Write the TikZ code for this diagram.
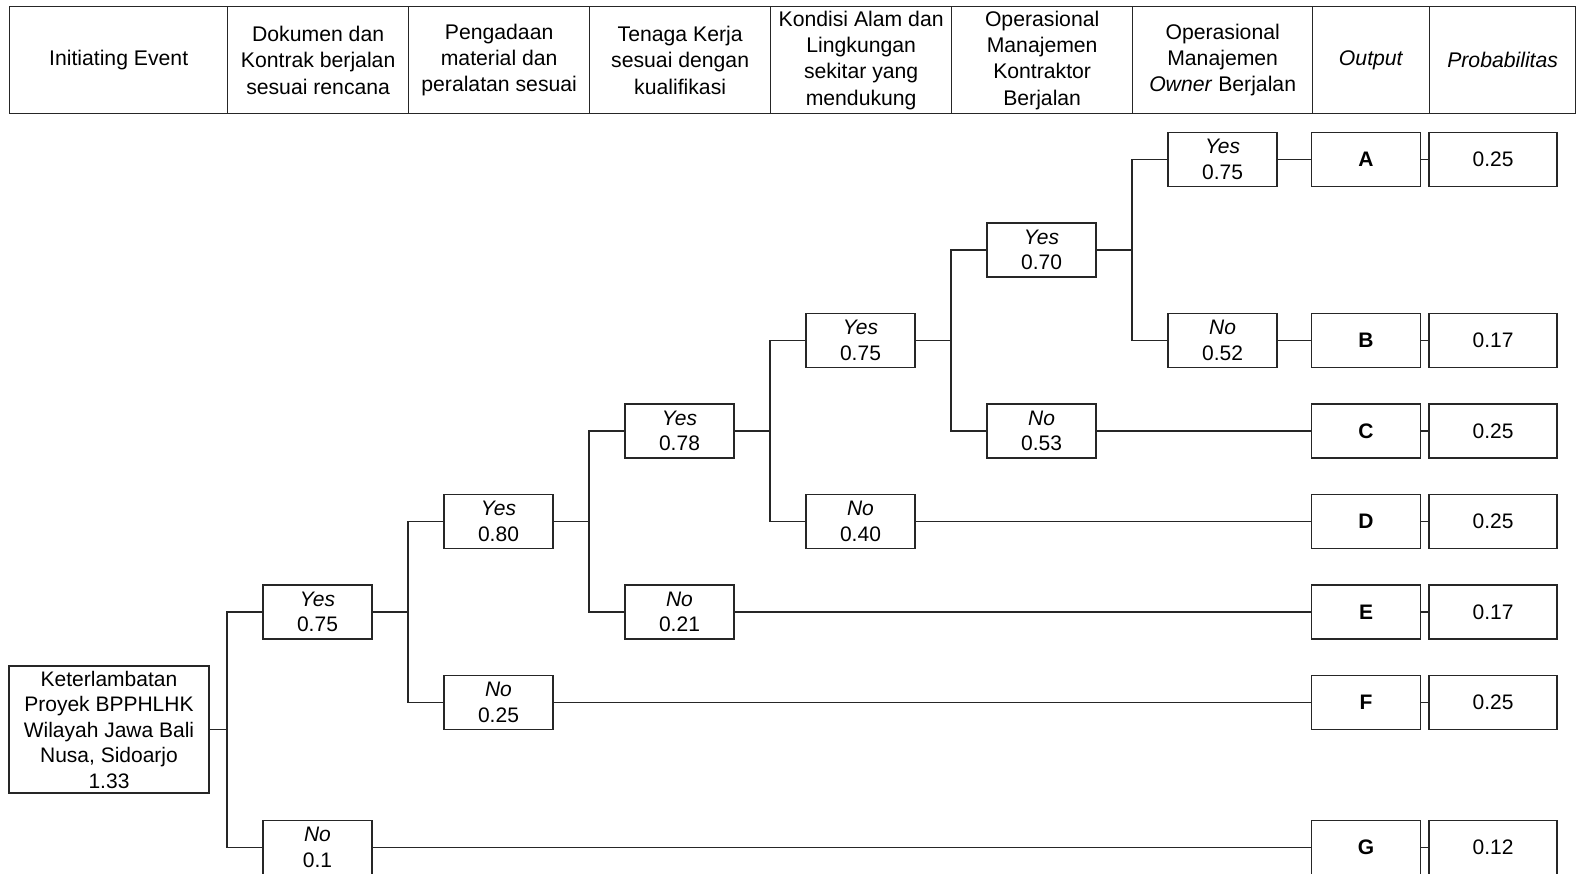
\documentclass[tikz,border=0pt]{standalone}
\usepackage{fontspec}
\setmainfont{Liberation Sans}
\begin{document}
\begin{tikzpicture}[x=1pt,y=-1pt,
  ln/.style={draw=black!85, line width=1.3pt},
  hcell/.style={ln, minimum height=107pt, inner sep=0pt, align=center, anchor=north west,
    font=\fontsize{21.2}{26.3}\selectfont},
  tbox/.style={ln, minimum width=109pt, minimum height=54pt, inner sep=0pt, align=center,
    font=\fontsize{21}{25.5}\selectfont},
  obox/.style={tbox, minimum width=109.5pt, font=\fontsize{21}{25.5}\selectfont\bfseries},
  pbox/.style={tbox, minimum width=128pt},
  conn/.style={ln}
]
\useasboundingbox (0,0) rectangle (1577,873);
% header
\node[hcell, minimum width=218pt] (h0) at (9,6) {Initiating Event};
\node[hcell, minimum width=181pt] (h1) at (227,6) {Dokumen dan\\Kontrak berjalan\\sesuai rencana};
\node[hcell, minimum width=181pt] (h2) at (408,6) {Pengadaan\\material dan\\peralatan sesuai};
\node[hcell, minimum width=181pt] (h3) at (589,6) {Tenaga Kerja\\sesuai dengan\\kualifikasi};
\node[hcell, minimum width=181pt] (h4) at (770,6) {Kondisi Alam dan\\Lingkungan\\sekitar yang\\mendukung};
\node[hcell, minimum width=181pt] (h5) at (951,6) {Operasional\\Manajemen\\Kontraktor\\Berjalan};
\node[hcell, minimum width=180pt] (h6) at (1132,6) {Operasional\\Manajemen\\\textit{Owner} Berjalan};
\node[hcell, minimum width=117pt] (h7) at (1312,6) {\textit{Output}};
\node[hcell, minimum width=146pt] (h8) at (1429,6) {\textit{Probabilitas}};

% root
\node[tbox, minimum width=200pt, minimum height=127pt] (root) at (109,729.5)
  {Keterlambatan\\Proyek BPPHLHK\\Wilayah Jawa Bali\\Nusa, Sidoarjo\\1.33};

% level 1
\node[tbox] (y1) at (317.5,612) {\textit{Yes}\\0.75};
\node[tbox] (n1) at (317.5,847.5) {\textit{No}\\0.1};
% level 2
\node[tbox] (y2) at (498.5,521.5) {\textit{Yes}\\0.80};
\node[tbox] (n2) at (498.5,702.5) {\textit{No}\\0.25};
% level 3
\node[tbox] (y3) at (679.5,431) {\textit{Yes}\\0.78};
\node[tbox] (n3) at (679.5,612) {\textit{No}\\0.21};
% level 4
\node[tbox] (y4) at (860.5,340.5) {\textit{Yes}\\0.75};
\node[tbox] (n4) at (860.5,521.5) {\textit{No}\\0.40};
% level 5
\node[tbox] (y5) at (1041.5,250) {\textit{Yes}\\0.70};
\node[tbox] (n5) at (1041.5,431) {\textit{No}\\0.53};
% level 6
\node[tbox] (y6) at (1222.5,159.5) {\textit{Yes}\\0.75};
\node[tbox] (n6) at (1222.5,340.5) {\textit{No}\\0.52};

% outputs
\node[obox] (oA) at (1366,159.5) {A};
\node[obox] (oB) at (1366,340.5) {B};
\node[obox] (oC) at (1366,431) {C};
\node[obox] (oD) at (1366,521.5) {D};
\node[obox] (oE) at (1366,612) {E};
\node[obox] (oF) at (1366,702.5) {F};
\node[obox] (oG) at (1366,847.5) {G};
% probabilities
\node[pbox] (pA) at (1493,159.5) {0.25};
\node[pbox] (pB) at (1493,340.5) {0.17};
\node[pbox] (pC) at (1493,431) {0.25};
\node[pbox] (pD) at (1493,521.5) {0.25};
\node[pbox] (pE) at (1493,612) {0.17};
\node[pbox] (pF) at (1493,702.5) {0.25};
\node[pbox] (pG) at (1493,847.5) {0.12};

% split points
\coordinate (t1) at (227,729.5);
\coordinate (t2) at (408,612);
\coordinate (t3) at (589,521.5);
\coordinate (t4) at (770,431);
\coordinate (t5) at (951,340.5);
\coordinate (t6) at (1132,250);

\draw[conn] (root.east) -- (t1);
\draw[conn] (y1.west) -| (t1) |- (n1.west);
\draw[conn] (y1.east) -- (t2);
\draw[conn] (y2.west) -| (t2) |- (n2.west);
\draw[conn] (y2.east) -- (t3);
\draw[conn] (y3.west) -| (t3) |- (n3.west);
\draw[conn] (y3.east) -- (t4);
\draw[conn] (y4.west) -| (t4) |- (n4.west);
\draw[conn] (y4.east) -- (t5);
\draw[conn] (y5.west) -| (t5) |- (n5.west);
\draw[conn] (y5.east) -- (t6);
\draw[conn] (y6.west) -| (t6) |- (n6.west);

\draw[conn] (y6.east) -- (oA.west);
\draw[conn] (n6.east) -- (oB.west);
\draw[conn] (n5.east) -- (oC.west);
\draw[conn] (n4.east) -- (oD.west);
\draw[conn] (n3.east) -- (oE.west);
\draw[conn] (n2.east) -- (oF.west);
\draw[conn] (n1.east) -- (oG.west);

\draw[conn] (oA.east) -- (pA.west);
\draw[conn] (oB.east) -- (pB.west);
\draw[conn] (oC.east) -- (pC.west);
\draw[conn] (oD.east) -- (pD.west);
\draw[conn] (oE.east) -- (pE.west);
\draw[conn] (oF.east) -- (pF.west);
\draw[conn] (oG.east) -- (pG.west);
\end{tikzpicture}
\end{document}
